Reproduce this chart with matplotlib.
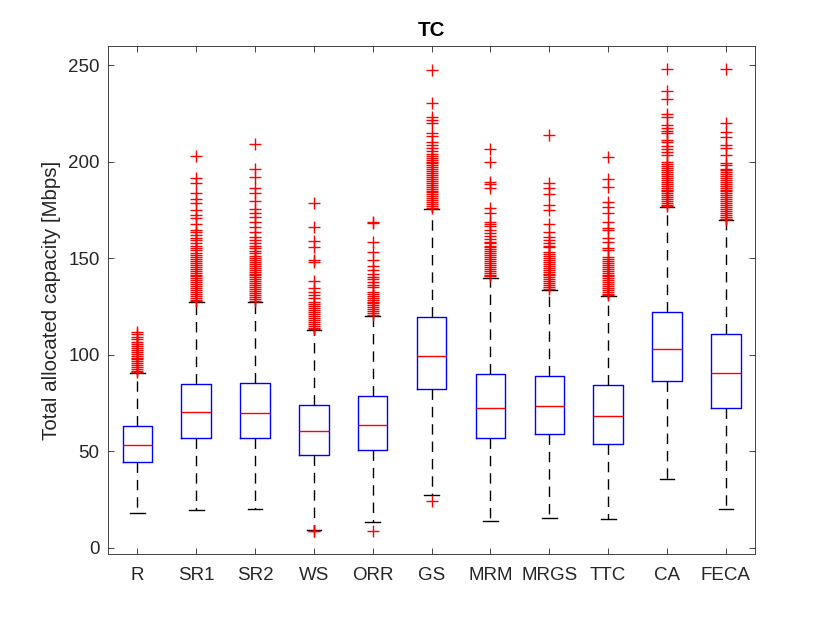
import matplotlib
matplotlib.use('Agg')
import matplotlib.pyplot as plt

plt.rcParams['font.family'] = ['Liberation Sans', 'DejaVu Sans']
plt.rcParams['lines.scale_dashes'] = False

# schemes on the x axis
labels = ['R', 'SR1', 'SR2', 'WS', 'ORR', 'GS', 'MRM', 'MRGS', 'TTC', 'CA', 'FECA']

# box statistics (Mbps)
whislo = [17.9, 19.6, 20.1, 9.1, 13.3, 27.3, 13.8, 15.2, 14.9, 35.7, 20.1]
q1 = [44.3, 56.9, 56.9, 48.0, 50.6, 82.0, 56.7, 58.8, 53.5, 86.1, 72.3]
med = [53.2, 70.2, 70.0, 60.4, 63.7, 99.2, 72.6, 73.3, 68.1, 103.1, 90.6]
q3 = [62.8, 85.0, 85.4, 74.0, 78.4, 119.3, 89.9, 88.7, 84.2, 122.3, 110.9]
whishi = [90.6, 127.4, 127.5, 113.0, 119.9, 175.3, 139.8, 133.3, 130.5, 176.6, 169.6]

# outliers (red crosses), one list per scheme
out_R = [111.8, 110.5, 109.2, 108, 106.6, 105.5, 104.5, 103.5, 102.5, 101.5, 100.5,
         99.5, 98.5, 97.5, 96.5, 95.5, 94.5, 93.5, 92.5, 91.5, 91]
out_SR1 = [202.8, 191.3, 188.7, 183.5, 180.4, 178.4, 174.9, 172.3, 170.6, 167.7,
           164.6, 163.5, 162, 160.5, 159.4, 157.7, 156.5, 155, 154, 152.8, 151.6,
           150.5, 149.5, 148.5, 147.5, 146.5, 145.5, 144.5, 143.5, 142.5, 141.5,
           140.5, 139.5, 138.5, 137.5, 136.5, 135.5, 134.5, 133.5, 132.5, 131.5,
           130.5, 129.5, 128.5, 128]
out_SR2 = [208.9, 195.9, 192.1, 186.4, 183.5, 179.5, 175.2, 173.2, 171.1, 168.8,
           166.3, 163.7, 161.1, 159.5, 158, 156.5, 155, 153.5, 152.4, 151, 150,
           149, 148, 147, 146, 145, 144, 143, 142, 141, 140, 139, 138, 137, 136,
           135, 134, 133, 132, 131, 130, 129, 128]
out_WS = [178.6, 166.2, 158.9, 155.5, 148.9, 148.0, 138.2, 134.3, 132.6, 130.8,
          129.1, 127.4, 126, 125, 124, 123, 122, 121, 120, 119, 118, 117, 116,
          115, 114, 113.5, 8.6, 8.9]
out_ORR = [168.8, 168.0, 158.4, 152.9, 148.9, 145.8, 143.7, 142.0, 140.3, 139,
           137.5, 136, 135.1, 132.5, 131.5, 130.5, 129.5, 128.5, 127.5, 126.5,
           125.5, 124.5, 123.5, 122.5, 121.5, 120.5, 8.6]
out_GS = [247.4, 230.1, 222.9, 221.5, 220, 214.6, 213, 210.3, 208.5, 207, 205.5,
          204, 203, 202, 201, 200, 199, 198, 197, 196, 195, 194, 193, 192, 191,
          190, 189, 188, 187, 186, 185, 184, 183, 182, 181, 180, 179, 178, 177,
          176, 24.2]
out_MRM = [206.5, 199.6, 189.5, 188.3, 186.1, 175.7, 173.6, 168.8, 167.7, 166.7,
           164.5, 163, 161.5, 160, 158.5, 157.6, 156.5, 155.5, 154.5, 153.5,
           152.5, 151.5, 150.5, 149.5, 148.5, 147.5, 146.5, 145.5, 144.5, 143.5,
           142.5, 141.5, 140.5]
out_MRGS = [213.7, 188.7, 186.1, 183.0, 177.5, 174.9, 167.6, 163.7, 161.1, 159.5,
            158, 156.5, 155.9, 153.3, 152, 151, 150, 149, 148, 147, 146, 145,
            144, 143, 142, 141, 140, 139, 138, 137, 136, 135, 134]
out_TTC = [202.2, 190.8, 186.6, 179.2, 176.6, 173.6, 168.8, 165.7, 164.5, 160.5,
           158.5, 155.4, 154.2, 150.8, 149.5, 148.5, 147.5, 146.5, 145.5, 144.5,
           143.5, 142.5, 141.5, 140.5, 139.5, 138.5, 137.5, 136.5, 135.5, 134.5,
           133.5, 132.5, 131.5, 131]
out_CA = [247.9, 236.5, 232.4, 224.4, 223.2, 218.9, 217.5, 216, 214.6, 211.1,
          210.2, 208.2, 206.5, 205, 203.3, 199.9, 198.5, 197.5, 196.5, 195.5,
          194.5, 193.5, 192.5, 191.5, 190.5, 189.5, 188.5, 187.5, 186.5, 185.5,
          184.5, 183.5, 182.5, 181.5, 180.5, 179.5, 178.5, 177.5, 177]
out_FECA = [247.9, 219.8, 215.1, 212.9, 208.6, 206.8, 203.3, 199.5, 198, 196.4,
            195.5, 194.5, 193.5, 192.5, 191.5, 190.5, 189.5, 188.5, 187.5, 186.5,
            185.5, 184.5, 183.5, 182.5, 181.5, 180.5, 179.5, 178.5, 177.5, 176.5,
            175.5, 174.5, 173.5, 172.5, 171.5, 170.5, 170]
outliers = [out_R, out_SR1, out_SR2, out_WS, out_ORR, out_GS, out_MRM, out_MRGS,
            out_TTC, out_CA, out_FECA]

stats = []
for i in range(len(labels)):
    stats.append(dict(label=labels[i], whislo=whislo[i], q1=q1[i], med=med[i],
                      q3=q3[i], whishi=whishi[i], fliers=outliers[i]))

fig = plt.figure(figsize=(8.3, 6.23), dpi=100)
ax = fig.add_axes([0.13, 0.11, 0.78, 0.816])

dark = (0.15, 0.15, 0.15)
ax.bxp(stats, widths=0.5, showfliers=True,
       boxprops=dict(color='blue', linewidth=1.0),
       medianprops=dict(color='red', linewidth=1.0),
       whiskerprops=dict(color='black', linewidth=1.0, linestyle=(0, (7.5, 5))),
       capprops=dict(color='black', linewidth=1.0),
       capwidths=0.25,
       flierprops=dict(marker='+', color='red', markeredgecolor='red',
                       markerfacecolor='red', markersize=8.5,
                       markeredgewidth=1.0, linestyle='none'))

ax.set_xlim(0.5, 11.5)
ax.set_ylim(-3.5, 259.8)
ax.set_yticks([0, 50, 100, 150, 200, 250])
ax.tick_params(axis='both', direction='in', length=4, width=0.6, colors=dark,
               labelsize=13.5, top=True, right=True)
ax.tick_params(axis='x', pad=9)
ax.tick_params(axis='y', pad=6)
for s in ax.spines.values():
    s.set_color(dark)
    s.set_linewidth(0.6)

ax.set_ylabel('Total allocated capacity [Mbps]', fontsize=14.8, color=dark, labelpad=5)
ax.set_title('TC', fontsize=14.8, fontweight='bold', color='black', pad=7)

fig.savefig('out.png', dpi=100)
